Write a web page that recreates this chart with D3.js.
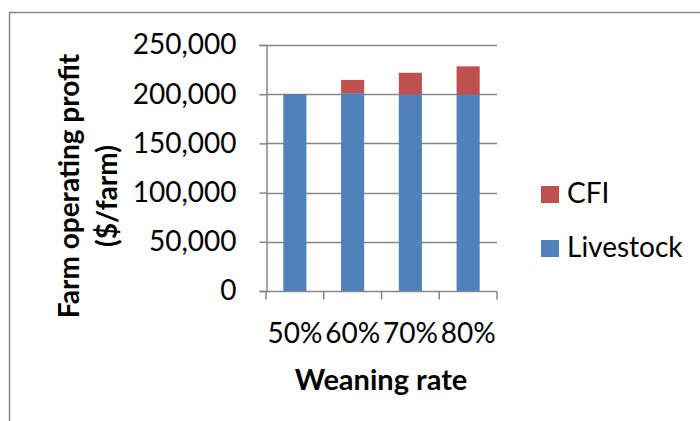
<!DOCTYPE html>
<html lang="en">
<head>
    <meta charset="UTF-8">
    <title>Farm operating profit by weaning rate</title>
    <style>
        * { margin: 0; padding: 0; }
        html, body { overflow: hidden; background: #fff; }
        text { font-family: Lato, "Open Sans", sans-serif; }
    </style>
</head>
<body>
    <div id="chart"></div>
    <script src="https://cdn.jsdelivr.net/npm/d3@7"></script>
    <script>
        // data
        const rates = ['50%', '60%', '70%', '80%']
        const livestock = [200000, 201000, 199500, 199500]
        const cfi = [0, 13500, 22300, 28800]
        const yTicks = [0, 50000, 100000, 150000, 200000, 250000]
        const seriesNames = ['Livestock', 'CFI']
        const colors = ['#4F81BD', '#C0504D']

        function drawChart() {
            const width = 700
            const height = 421
            const svg = d3.select('#chart')
                .append('svg')
                .attr('width', width)
                .attr('height', height)

            // outer frame (runs off right and bottom)
            svg.append('rect')
                .attr('x', 9.5)
                .attr('y', 12.5)
                .attr('width', 720)
                .attr('height', 440)
                .attr('fill', 'none')
                .attr('stroke', '#868686')
                .attr('stroke-width', 1.5)

            const margin = { left: 266, right: 203, top: 45, bottom: 130 }
            const x = d3.scaleBand()
                .domain(rates)
                .range([margin.left, width - margin.right])
                .paddingInner(0.6)
                .paddingOuter(0.3)
            const xb = d3.scaleBand()
                .domain(rates)
                .range([margin.left, width - margin.right])
            const y = d3.scaleLinear()
                .domain([0, 250000])
                .range([height - margin.bottom, margin.top])

            // gridlines
            svg.append('g')
                .selectAll('line')
                .data(yTicks.filter(d => d > 0))
                .join('line')
                .attr('x1', margin.left)
                .attr('x2', width - margin.right)
                .attr('y1', d => Math.round(y(d)) + 0.5)
                .attr('y2', d => Math.round(y(d)) + 0.5)
                .attr('stroke', '#868686')
                .attr('stroke-width', 1.5)

            // stacked bars
            const table = rates.map((r, i) => ({ rate: r, Livestock: livestock[i], CFI: cfi[i] }))
            const stacked = d3.stack().keys(seriesNames)(table)
            svg.append('g')
                .selectAll('g')
                .data(stacked)
                .join('g')
                .attr('fill', (d, i) => colors[i])
                .selectAll('rect')
                .data(d => d)
                .join('rect')
                .attr('x', d => x(d.data.rate))
                .attr('width', x.bandwidth())
                .attr('y', d => y(d[1]))
                .attr('height', d => y(d[0]) - y(d[1]))

            // y axis
            const yAxis = svg.append('g')
                .attr('transform', `translate(${margin.left + 0.5},0)`)
                .call(d3.axisLeft(y).tickValues(yTicks).tickFormat(d3.format(',')).tickSize(7).tickPadding(23))
            yAxis.select('.domain').attr('stroke', '#868686').attr('stroke-width', 1.5)
            yAxis.selectAll('.tick line').attr('stroke', '#868686').attr('stroke-width', 1.5)
            yAxis.selectAll('.tick text')
                .attr('font-size', 28)
                .attr('fill', '#000')
                .style('font-family', 'Lato, sans-serif')

            // x axis with ticks at band edges
            const xAxis = svg.append('g')
                .attr('transform', `translate(0,${height - margin.bottom + 0.5})`)
            xAxis.append('line')
                .attr('x1', margin.left)
                .attr('x2', width - margin.right)
                .attr('stroke', '#868686')
                .attr('stroke-width', 1.5)
            xAxis.selectAll('line.tk')
                .data(rates.concat(['end']))
                .join('line')
                .attr('class', 'tk')
                .attr('x1', d => d === 'end' ? width - margin.right : xb(d))
                .attr('x2', d => d === 'end' ? width - margin.right : xb(d))
                .attr('y1', 0)
                .attr('y2', 8)
                .attr('stroke', '#868686')
                .attr('stroke-width', 1.5)
            xAxis.selectAll('text')
                .data(rates)
                .join('text')
                .attr('x', d => xb(d) + xb.bandwidth() / 2)
                .attr('y', 51)
                .attr('text-anchor', 'middle')
                .attr('font-size', 28)
                .text(d => d)

            // axis titles
            svg.append('text')
                .attr('x', 381)
                .attr('y', 390)
                .attr('text-anchor', 'middle')
                .attr('font-size', 29)
                .attr('font-weight', 'bold')
                .text('Weaning rate')

            svg.append('text')
                .attr('transform', 'translate(79,186) rotate(-90)')
                .attr('text-anchor', 'middle')
                .attr('font-size', 28)
                .attr('font-weight', 'bold')
                .text('Farm operating profit')
            svg.append('text')
                .attr('transform', 'translate(117,196) rotate(-90)')
                .attr('text-anchor', 'middle')
                .attr('font-size', 28)
                .attr('font-weight', 'bold')
                .text('($/farm)')

            // legend (CFI on top)
            const legend = svg.append('g')
                .selectAll('g')
                .data([1, 0])
                .join('g')
                .attr('transform', (d, i) => `translate(541,${186 + i * 54})`)
            legend.append('rect')
                .attr('width', 18)
                .attr('height', 17)
                .attr('fill', d => colors[d])
            legend.append('text')
                .attr('x', 26)
                .attr('y', 17)
                .attr('font-size', 28)
                .text(d => seriesNames[d])
        }

        drawChart()
    </script>
</body>
</html>
